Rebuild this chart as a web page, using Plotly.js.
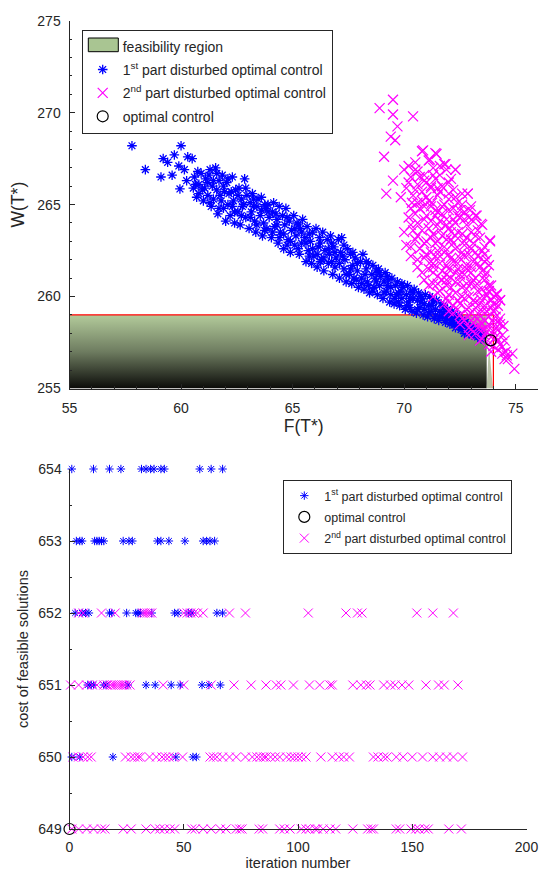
<!DOCTYPE html>
<html><head><meta charset="utf-8">
<script src="https://cdn.plot.ly/plotly-3.0.1.min.js"></script>
<style>body{margin:0;padding:0;background:#fff}#plot{width:541px;height:873px}</style>
</head><body><div id="plot"></div>
<script>
// ---------- top panel data ----------
const regionF = [55, 55, 73.7, 73.7];
const regionW = [255, 259, 259, 255];
const sliverF = [73.7, 73.8, 73.98];
const sliverW = [255, 257.3, 255];
const boundF = [55, 74.0, 74.0];
const boundW = [259, 259, 255];
const optF = [73.88];
const optW = [257.62];

const blueF = [57.8,58.4,59.1,59.2,59.4,59.6,59.7,59.9,60.0,59.95,60.15,60.3,60.5,60.55,60.25,
60.6,60.7,60.8,60.9,61.0,60.95,60.65,60.8,60.75,
61.1,61.2,61.3,61.35,61.4,61.45,61.25,61.05,61.2,61.3,61.45,
61.55,61.6,61.65,61.7,61.8,61.85,61.9,61.95,62.0,61.6,61.75,61.9,61.7,
62.05,62.1,62.15,62.2,62.3,62.35,62.4,62.45,62.1,62.25,62.4,62.3,
62.55,62.6,62.65,62.7,62.75,62.85,62.9,62.95,62.55,62.7,62.8,62.9,
63.05,63.1,63.15,63.2,63.3,63.35,63.4,63.45,63.1,63.25,63.4,63.25,
63.55,63.6,63.65,63.7,63.8,63.85,63.9,63.95,63.6,63.75,63.9,63.75,
64.05,64.1,64.15,64.2,64.3,64.35,64.4,64.45,64.1,64.25,64.4,64.3,
64.55,64.6,64.65,64.7,64.8,64.85,64.9,64.95,64.6,64.75,64.9,64.75,
65.05,65.1,65.15,65.2,65.3,65.35,65.4,65.45,65.1,65.25,65.4,65.25,
65.55,65.6,65.65,65.7,65.8,65.85,65.9,65.95,65.6,65.75,65.9,65.75,
66.05,66.1,66.15,66.2,66.3,66.35,66.4,66.45,66.1,66.25,66.4,66.25,
66.55,66.6,66.65,66.7,66.8,66.85,66.9,66.95,66.6,66.75,66.9,66.75,
67.05,67.1,67.15,67.2,67.3,67.35,67.4,67.45,67.1,67.25,67.4,67.3,
67.55,67.6,67.65,67.7,67.8,67.85,67.9,67.95,67.6,67.75,67.9,67.7,
68.05,68.1,68.15,68.2,68.3,68.35,68.4,68.45,68.1,68.25,68.4,68.3,
68.55,68.6,68.65,68.7,68.8,68.85,68.9,68.95,68.6,68.75,68.9,68.75,
69.05,69.1,69.15,69.2,69.3,69.35,69.4,69.45,69.1,69.25,69.4,69.25,
69.55,69.6,69.65,69.7,69.8,69.85,69.9,69.95,69.6,69.75,69.9,69.75,
70.05,70.1,70.15,70.2,70.3,70.35,70.4,70.45,70.1,70.25,70.4,70.25,
70.55,70.6,70.65,70.7,70.8,70.85,70.9,70.95,70.6,70.75,70.9,70.75,
71.05,71.1,71.15,71.2,71.3,71.35,71.4,71.45,71.1,71.25,71.4,71.25,
71.55,71.6,71.65,71.7,71.8,71.85,71.9,71.95,71.6,71.75,71.9,71.75,
72.05,72.1,72.15,72.2,72.3,72.35,72.4,72.45,72.1,72.25,72.4,72.25,
72.55,72.6,72.7,72.8,72.85,72.9,72.95,72.6,72.75,72.9,72.7,
73.05,73.1,73.2,73.3,73.35,73.45,73.5,73.15,73.25,73.4];
const blueW = [268.2,266.9,266.5,267.5,267.3,266.6,267.7,267.1,268.2,265.85,266.9,267.6,267.5,265.9,266.3,
266.5,265.4,266.1,266.7,265.2,265.8,266.1,265.6,266.8,
266.4,265.5,266.9,264.9,266.0,265.3,266.6,265.9,266.2,265.1,266.3,
267.0,265.8,264.5,266.3,265.2,266.6,264.8,265.7,264.1,266.7,265.5,266.0,264.8,
266.2,265.0,265.6,264.4,266.5,265.2,264.0,265.8,266.4,265.7,264.6,264.9,
264.6,265.9,263.9,265.3,264.9,266.4,264.3,265.5,265.5,264.4,265.0,265.9,
263.7,265.1,264.6,265.6,264.1,263.5,264.9,265.3,264.3,264.9,263.9,265.3,
264.4,265.4,263.3,264.0,264.8,263.7,265.0,264.3,264.7,263.6,264.6,265.0,
263.2,264.6,265.1,263.8,264.2,262.9,264.9,263.5,263.5,264.5,263.2,263.9,
264.4,262.6,263.9,264.8,263.1,264.1,262.4,263.6,263.4,264.3,263.0,262.8,
264.4,262.8,263.3,264.0,262.3,263.7,262.9,264.2,263.7,262.6,263.5,263.9,
263.2,261.9,263.8,262.5,263.0,261.8,263.5,262.2,262.9,263.4,262.6,262.2,
263.7,261.6,262.7,263.2,262.0,263.5,261.4,262.5,262.3,262.9,262.1,261.9,
263.1,261.8,262.3,263.3,261.2,262.7,261.6,262.1,262.6,261.9,262.4,262.9,
263.1,261.0,262.4,263.2,261.5,262.0,260.8,262.6,261.8,262.2,261.2,262.8,
261.2,262.3,260.7,261.7,262.1,260.9,261.4,260.5,261.5,261.0,261.8,262.4,
261.9,261.0,262.3,260.4,261.5,260.8,261.8,260.2,260.7,261.2,260.6,261.9,
261.2,261.7,260.5,261.0,260.1,261.5,260.6,261.1,260.3,260.8,261.3,261.4,
259.9,260.8,261.3,260.3,260.9,259.7,260.5,261.0,260.2,260.6,260.1,261.1,
259.6,260.6,260.1,260.8,259.5,260.3,259.9,260.5,259.9,260.2,260.7,259.7,
259.3,260.1,260.6,259.7,260.3,259.2,259.9,260.4,259.5,259.9,260.2,259.4,
259.1,259.8,260.2,259.4,259.9,259.0,259.6,260.1,259.3,259.7,259.3,260.0,
258.9,259.5,260.0,259.2,259.7,258.8,259.3,259.8,259.1,259.5,259.0,259.9,
258.7,259.2,259.6,258.9,259.4,258.6,259.0,259.3,258.9,259.1,258.8,259.5,
258.5,258.9,259.2,258.6,258.3,258.8,259.0,258.4,258.7,258.9,258.6,258.5,
258.2,258.7,258.4,258.1,258.5,258.0,258.3,258.4,258.6,258.2,258.0,
257.9,258.3,258.0,257.8,258.1,257.7,257.9,258.2,257.9,258.0];

const magF = [68.9,69.5,69.5,69.7,69.4,69.6,69.1,70.4,69.5,69.2,69.85,70.85,71.45,71.15,71.85,72.3,72.85,72.95,73.25,73.45,73.85,74.15,74.3,
70.8,71.4,71.1,70.5,71.8,70.2,
70.0,70.6,71.3,71.9,72.3,70.9,
70.3,71.0,71.6,72.1,70.6,71.4,
70.1,70.8,71.2,71.7,72.2,72.6,70.4,
71.0,71.5,72.0,72.4,72.85,70.6,71.8,71.25,
70.3,70.9,71.4,72.2,72.7,73.0,71.7,72.5,71.0,
70.2,70.6,71.2,71.9,72.3,72.9,73.2,71.5,72.0,70.4,
70.0,70.8,71.3,71.7,72.4,72.8,73.3,73.5,70.5,72.1,71.0,
70.1,70.7,71.4,71.8,72.3,72.7,73.1,73.6,73.85,71.2,72.0,
70.3,70.9,71.6,72.5,72.9,73.3,73.7,71.3,72.2,72.8,
70.6,71.1,71.7,72.4,73.0,73.5,73.8,71.5,72.1,72.7,73.2,
70.9,71.3,71.9,72.5,73.0,73.6,73.9,71.6,72.3,72.8,73.3,
71.3,71.9,72.6,73.1,73.7,74.0,74.15,72.2,72.9,73.4,71.8,
72.0,72.5,73.0,73.5,73.9,74.2,74.3,72.7,73.3,73.8,
72.5,72.9,73.4,74.0,74.3,73.2,73.7,74.2,74.45,
72.9,73.5,74.1,74.4,73.8,74.3,74.5,73.4,
73.9,74.2,74.4,74.55,74.6,74.65,74.85,74.5,74.94,
70.2,70.5,70.9,71.3,71.6,72.0,70.35,70.8,71.2,71.7,72.3,72.6,
70.5,70.9,71.4,71.9,72.4,72.8,73.1,70.3,70.6,71.1,71.6,72.1,72.6,73.0,73.4,
70.3,70.9,71.5,72.2,72.6,73.0,73.5,70.6,71.2,71.9,72.4,73.1,73.6,
70.8,71.3,71.9,72.5,73.0,73.4,73.7,71.1,71.7,72.1,72.6,73.2,73.8,
71.5,72.0,72.4,72.9,73.4,73.9,72.2,72.8,73.2,73.6,74.0,
72.6,73.1,73.6,74.1,73.0,73.5,74.0,74.3,73.6,74.2,74.0,74.4,
71.2,71.5,71.9,72.3,72.7,73.2,
71.0,71.4,71.8,72.1,72.7,73.2,73.6,
71.3,71.6,72.0,72.3,72.8,73.3,73.6,
71.5,71.9,72.3,72.8,73.1,73.5,73.8,
72.0,72.5,72.7,73.2,73.6,74.0,
72.4,72.9,73.3,73.7,74.1,
73.0,73.4,73.8,74.2,
73.3,73.7,74.1,73.9,
70.7,71.1,71.5,72.0,72.5,71.6,72.2,72.7,
70.7,71.2,71.5,72.0,70.5,71.6];
const magW = [270.25,270.7,269.9,269.25,268.7,268.5,267.6,269.8,266.3,265.6,265.4,267.95,267.75,267.45,267.2,266.9,265.6,264.7,264.4,263.95,263.05,260.15,259.8,
267.9,267.8,267.4,267.3,267.2,267.1,
266.9,266.8,267.0,266.9,266.9,266.6,
266.5,266.2,266.6,266.4,266.1,266.4,
265.9,265.7,265.9,266.0,265.8,265.6,265.5,
265.4,265.5,265.3,265.1,265.6,265.1,265.0,265.1,
264.8,264.9,264.7,264.8,264.6,264.9,264.5,264.3,264.4,
264.3,264.0,264.1,264.2,264.0,264.3,264.4,263.9,263.7,263.6,
263.5,263.6,263.4,263.3,263.5,263.2,263.6,263.9,263.1,263.1,263.0,
262.8,262.6,262.9,262.7,262.6,262.8,262.9,262.7,263.0,262.4,262.3,
262.2,262.1,262.2,262.1,262.3,262.2,262.0,261.8,261.9,261.7,
261.6,261.5,261.4,261.5,261.6,261.4,261.7,261.1,261.0,261.2,261.0,
260.9,260.7,260.6,260.8,260.7,260.9,260.6,260.3,260.2,260.4,260.3,
260.0,259.9,260.0,259.8,260.1,260.0,260.1,259.5,259.4,259.6,259.6,
259.2,259.0,259.1,259.2,259.4,259.5,259.8,258.7,258.8,258.9,
258.5,258.3,258.4,258.6,258.8,258.0,258.1,258.2,258.4,
257.9,257.7,257.8,257.9,257.4,257.4,257.6,257.6,
257.0,257.1,257.25,257.0,256.8,256.6,256.9,256.6,256.07,
266.2,265.8,266.3,266.6,265.7,266.2,265.1,265.2,264.9,264.9,265.4,265.0,
264.5,264.2,264.4,263.9,264.4,263.9,264.1,263.9,263.3,263.7,263.6,263.5,263.4,263.5,263.2,
262.7,262.9,262.5,262.9,262.4,262.6,262.5,262.0,261.9,261.7,261.8,261.9,261.9,
261.3,261.3,261.2,261.2,261.3,261.6,261.3,260.6,260.9,260.5,260.5,260.6,260.6,
260.2,260.1,259.8,260.0,259.9,259.8,259.1,259.3,259.4,259.5,259.2,
258.8,258.6,258.7,258.9,258.2,258.2,258.1,258.5,257.9,257.6,257.3,256.9,
263.2,263.0,263.1,263.3,263.0,263.3,
262.3,262.2,262.4,262.1,262.2,262.4,262.3,
261.6,261.8,261.5,261.3,261.5,261.8,261.1,
260.7,260.9,260.8,260.7,260.9,260.4,260.3,
259.7,259.6,259.9,259.7,259.9,259.6,
259.3,259.0,259.1,259.2,259.3,
258.7,258.6,258.5,258.6,
258.3,258.3,258.3,257.8,
264.8,265.2,264.6,264.7,264.7,264.1,264.2,264.2,
266.5,266.0,265.9,265.6,266.9,267.1];

// ---------- bottom panel data ----------
const b654 = [1,10.5,17.5,22.5,31.5,33.5,35.5,37,40,41.5,57,62,67];
const b653 = [3,4.5,5.5,11,12,13,14,15,23.5,26,27.5,38.5,40,43.5,50.5,58.5,60,61.5,63.5];
const b652 = [2.5,5.5,7,8.5,17.5,18.5,25,29,30,31,36,46,47.5,52,53.5,64.5,67];
const b651 = [8,9.5,10.5,15,16,25.5,33.5,37.5,44.5,48.5,58,61,66];
const b650 = [1,4.5,19,46.5,54,55.5];
const m652 = [4,6,14,20,32,33,34,35,36,50,51.5,53,54.5,56,58.5,70,77,104.5,121,126,128,152,159,168];
const m651 = [0.5,4,7.5,10,12,15,16.5,18,19,20,21,22,23,24,25,26.5,41,50,62,72,79.5,86,90.5,92.5,98,105,109.5,114,115,124,127.5,130,131.5,137.5,140.5,142.5,145.5,148.5,156,161.5,164,170];
const m650 = [1.5,4,6,8,9.5,24.5,27,28.5,30,31,35,38,40.5,42,43.5,45.5,49.5,61.5,63,64.5,67,70,73,77,80,82,83.5,85,86,88,90,92,95,97,98.5,100,101.5,103.5,110,115,118,120,122.5,133,135,137.5,139,143,146,150,154.5,159,162,165,168,172];
const m649 = [1,4,7.5,10.5,14,15.5,23.5,27,33.5,37.5,39.5,41.5,44,46,53.5,55,58.5,62,66,68.5,73,74.5,75.5,83,84.5,92,94,96.5,101.5,103.5,105,107.5,108.5,111,114,116.5,124,130.5,132,133,143,144.5,149.5,151.5,153,155.5,157,166,171.5];
const optIter = [0];
const optCost = [649];

function rows(groups){ const x=[],y=[]; groups.forEach(g=>{g[1].forEach(v=>{x.push(v);y.push(g[0]);});}); return {x,y}; }
const bottomBlue = rows([[654,b654],[653,b653],[652,b652],[651,b651],[650,b650]]);
const bottomMag = rows([[652,m652],[651,m651],[650,m650],[649,m649]]);

const BLUE='#0000ff', MAG='#ff00ff', AX='#262626';
const FONT='"Liberation Sans", Arial, Helvetica, sans-serif';
const lbl1='1<sup>st</sup> part disturbed optimal control';
const lbl2='2<sup>nd</sup> part disturbed optimal control';

const traces = [
 {x:regionF, y:regionW, xaxis:'x', yaxis:'y', type:'scatter', mode:'none', fill:'toself',
  fillgradient:{type:'vertical', colorscale:[[0,'#0b0b09'],[0.5,'#6e7c60'],[1,'#b3cb9b']]},
  showlegend:false, hoverinfo:'skip'},
 {x:sliverF, y:sliverW, xaxis:'x', yaxis:'y', type:'scatter', mode:'none', fill:'toself', fillcolor:'#b7c1a6', showlegend:false, hoverinfo:'skip'},
 {x:[null], y:[null], xaxis:'x', yaxis:'y', type:'scatter', mode:'lines',
  line:{color:'rgba(0,0,0,0)', width:0}, name:'feasibility region', legend:'legend', legendgroup:'a'},
 {x:boundF, y:boundW, xaxis:'x', yaxis:'y', type:'scatter', mode:'lines', line:{color:'#ff0000', width:1.2}, showlegend:false, hoverinfo:'skip'},
 {x:blueF, y:blueW, xaxis:'x', yaxis:'y', type:'scatter', mode:'markers', name:lbl1, legend:'legend', legendgroup:'b',
  marker:{symbol:'asterisk-open', size:8, color:BLUE, line:{color:BLUE, width:1.3}}, cliponaxis:false},
 {x:magF, y:magW, xaxis:'x', yaxis:'y', type:'scatter', mode:'markers', name:lbl2, legend:'legend', legendgroup:'c',
  marker:{symbol:'x-thin-open', size:10, color:MAG, line:{color:MAG, width:1.2}}, cliponaxis:false},
 {x:optF, y:optW, xaxis:'x', yaxis:'y', type:'scatter', mode:'markers', name:'optimal control', legend:'legend', legendgroup:'d',
  marker:{symbol:'circle-open', size:11, color:'#000', line:{color:'#000', width:1.2}}, cliponaxis:false},
 // bottom
 {x:bottomBlue.x, y:bottomBlue.y, xaxis:'x2', yaxis:'y2', type:'scatter', mode:'markers', name:lbl1, legend:'legend2', legendgroup:'e',
  marker:{symbol:'asterisk-open', size:7, color:BLUE, line:{color:BLUE, width:1}}, cliponaxis:false},
 {x:optIter, y:optCost, xaxis:'x2', yaxis:'y2', type:'scatter', mode:'markers', name:'optimal control', legend:'legend2', legendgroup:'f',
  marker:{symbol:'circle-open', size:11, color:'#000', line:{color:'#000', width:1.2}}, cliponaxis:false},
 {x:bottomMag.x, y:bottomMag.y, xaxis:'x2', yaxis:'y2', type:'scatter', mode:'markers', name:lbl2, legend:'legend2', legendgroup:'g',
  marker:{symbol:'x-thin-open', size:9, color:MAG, line:{color:MAG, width:1}}, cliponaxis:false}
];
const W=541,H=873;
const axBase = {showline:true, linecolor:AX, linewidth:1, ticks:'inside', ticklen:5, tickcolor:AX, showgrid:false, zeroline:false,
  tickfont:{size:14, color:AX, family:FONT}, fixedrange:true};
const layout = {
 width:W, height:H, margin:{l:0,r:0,t:0,b:0}, paper_bgcolor:'#fff', plot_bgcolor:'rgba(0,0,0,0)',
 font:{family:FONT, color:AX},
 xaxis:Object.assign({}, axBase, {domain:[69.5/W, 538/W], range:[55,76], anchor:'y', tick0:55, dtick:5, ticklabelstandoff:7,
   minor:{dtick:1, ticks:'inside', ticklen:2.5, tickcolor:AX},
   title:{text:'F(T*)', font:{size:17.5, color:AX}, standoff:3}}),
 yaxis:Object.assign({}, axBase, {domain:[1-388.5/H, 1-20.7/H], range:[255,275], anchor:'x', tick0:255, dtick:5, ticklabelstandoff:5,
   minor:{dtick:1, ticks:'inside', ticklen:2.5, tickcolor:AX},
   title:{text:'W(T*)', font:{size:17.5, color:AX}, standoff:8}}),
 xaxis2:Object.assign({}, axBase, {domain:[69.5/W, 526.5/W], range:[0,200], anchor:'y2', tick0:0, dtick:50, ticklabelstandoff:5,
   title:{text:'iteration number', font:{size:14.5, color:AX}, standoff:3}}),
 yaxis2:Object.assign({}, axBase, {domain:[1-829/H, 1-469/H], range:[649,654], anchor:'x2', tick0:649, dtick:1, ticklabelstandoff:4,
   minor:{dtick:0.5, ticks:'inside', ticklen:2.5, tickcolor:AX},
   title:{text:'cost of feasible solutions', font:{size:14.5, color:AX}, standoff:6}}),
 legend:{x:81.7/W, y:1-29.5/H, xanchor:'left', yanchor:'top', bgcolor:'rgba(255,255,255,0)', bordercolor:AX, borderwidth:1,
   font:{size:14, color:AX, family:FONT}, traceorder:'grouped', tracegroupgap:2.2},
 legend2:{x:283.3/W, y:1-480/H, xanchor:'left', yanchor:'top', bgcolor:'#fff', bordercolor:AX, borderwidth:1,
   font:{size:12.5, color:AX, family:FONT}, traceorder:'grouped', tracegroupgap:2},
 shapes:[{type:'rect', xref:'paper', yref:'paper', x0:88.3/W, x1:118.3/W, y0:1-51.7/H, y1:1-38/H,
   fillcolor:'#a9c592', line:{color:'#000', width:1}, layer:'above'}]
};
Plotly.newPlot('plot', traces, layout, {staticPlot:true, displayModeBar:false});
</script></body></html>
